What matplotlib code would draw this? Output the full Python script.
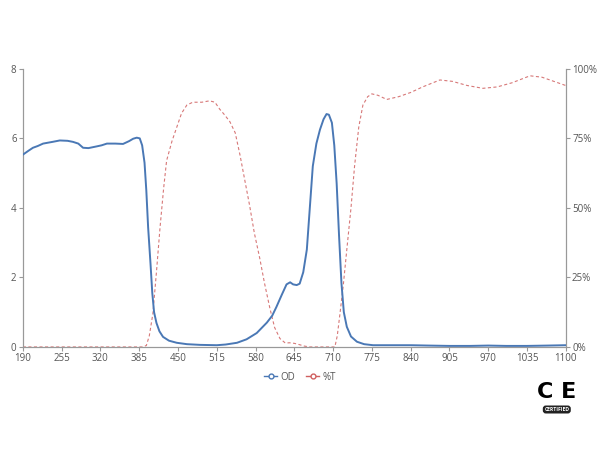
import matplotlib
matplotlib.use("Agg")
import matplotlib.pyplot as plt
from matplotlib.lines import Line2D

plt.rcParams['font.family'] = ['Open Sans', 'DejaVu Sans']

# wavelength (nm) and optical density
od_nm = [190, 200, 207, 215, 224, 240, 252, 265, 274, 283, 291, 300, 314, 322, 331,
         345, 358, 368, 375, 381, 386, 390, 394, 397, 400, 404, 407, 410, 414, 419,
         425, 435, 448, 465, 487, 515, 530, 549, 565, 582, 599, 608, 615, 624, 632,
         638, 643, 649, 654, 660, 666, 671, 676, 682, 688, 694, 699, 703, 708, 712,
         716, 720, 724, 728, 733, 740, 750, 762, 777, 800, 840, 870, 905, 940, 970,
         1000, 1035, 1070, 1100]
od_val = [5.53, 5.65, 5.73, 5.78, 5.85, 5.9, 5.94, 5.93, 5.9, 5.85, 5.73, 5.72, 5.77, 5.8, 5.85,
          5.85, 5.84, 5.92, 5.99, 6.02, 6.0, 5.8, 5.3, 4.5, 3.45, 2.4, 1.55, 1.0, 0.69, 0.45,
          0.29, 0.18, 0.12, 0.08, 0.06, 0.05, 0.07, 0.12, 0.22, 0.4, 0.7, 0.9, 1.15, 1.5, 1.8,
          1.86, 1.8, 1.78, 1.82, 2.15, 2.8, 4.0, 5.2, 5.85, 6.25, 6.55, 6.7, 6.68, 6.45, 5.8,
          4.7, 3.2, 1.84, 1.0, 0.58, 0.3, 0.15, 0.08, 0.05, 0.05, 0.05, 0.04, 0.03, 0.03, 0.04,
          0.03, 0.03, 0.04, 0.05]

# wavelength (nm) and transmission (fraction)
t_nm = [190, 300, 390, 397, 402, 408, 414, 420, 426, 431, 440, 448, 456, 465, 475,
        490, 503, 512, 520, 528, 537, 546, 554, 562, 570, 578, 587, 595, 604, 612,
        621, 630, 637, 645, 654, 662, 671, 690, 713, 717, 721, 727, 733, 740, 746,
        753, 760, 768, 775, 785, 800, 820, 840, 860, 889, 910, 935, 961, 985, 1010,
        1040, 1060, 1080, 1100]
t_val = [0.0, 0.0, 0.0, 0.005, 0.04, 0.12, 0.27, 0.43, 0.57, 0.67, 0.74, 0.79, 0.84, 0.87, 0.88,
         0.88, 0.885, 0.88, 0.855, 0.835, 0.81, 0.77, 0.69, 0.6, 0.51, 0.41, 0.32, 0.23, 0.14, 0.07,
         0.03, 0.014, 0.015, 0.013, 0.008, 0.003, 0.0, 0.0, 0.0, 0.04, 0.11, 0.22, 0.35, 0.5, 0.65,
         0.79, 0.87, 0.9, 0.91, 0.905, 0.89, 0.9, 0.915, 0.935, 0.96, 0.955, 0.94, 0.93, 0.935, 0.95,
         0.975, 0.97, 0.955, 0.94]

x_ticks = list(range(190, 1101, 65))
od_ticks = [0, 2, 4, 6, 8]
t_ticks = [0, 0.25, 0.5, 0.75, 1.0]
t_labels = ['0%', '25%', '50%', '75%', '100%']

blue = '#4a78b5'
red = '#d06060'
grey = '#555555'
axis_grey = '#999999'

fig = plt.figure(figsize=(6, 4.5), dpi=100)
ax = fig.add_axes([0.038, 0.229, 0.905, 0.618])
ax2 = ax.twinx()

ax.plot(od_nm, od_val, color=blue, lw=1.4, zorder=3)
ax2.plot(t_nm, t_val, color=red, lw=0.8, ls=(0, (2.8, 2.2)), alpha=0.85)
ax.set_zorder(ax2.get_zorder() + 1)
ax.patch.set_visible(False)

ax.set_xlim(190, 1100)
ax.set_ylim(0, 8)
ax2.set_ylim(0, 1)
ax.set_xticks(x_ticks)
ax.set_yticks(od_ticks)
ax2.set_yticks(t_ticks)
ax2.set_yticklabels(t_labels)

for a in (ax, ax2):
    a.spines['top'].set_visible(False)
    for s in ('left', 'right', 'bottom'):
        a.spines[s].set_color(axis_grey)
        a.spines[s].set_linewidth(0.8)
    a.tick_params(colors=axis_grey, labelcolor=grey, labelsize=7, length=3, width=0.8, pad=1.5)

# legend below the plot
handles = [Line2D([], [], color=blue, marker='o', markersize=3.5, markerfacecolor='white', lw=1),
           Line2D([], [], color=red, marker='o', markersize=3.5, markerfacecolor='white', lw=1)]
fig.legend(handles, ['OD', '%T'], loc='center', bbox_to_anchor=(0.5, 0.162), ncol=2,
           frameon=False, fontsize=7, handlelength=1.3, handletextpad=0.3, columnspacing=1.2,
           labelcolor=grey)

# CE certified mark
fig.text(0.928, 0.128, 'C E', ha='center', va='center', fontsize=16, fontweight='bold',
         family='DejaVu Sans', color='black')
fig.text(0.928, 0.090, 'CERTIFIED', ha='center', va='center', fontsize=3.6, fontweight='bold',
         color='white', bbox=dict(boxstyle='round,pad=0.3,rounding_size=0.6', fc='#222222', ec='none'))

fig.savefig('out.png', dpi=100)
